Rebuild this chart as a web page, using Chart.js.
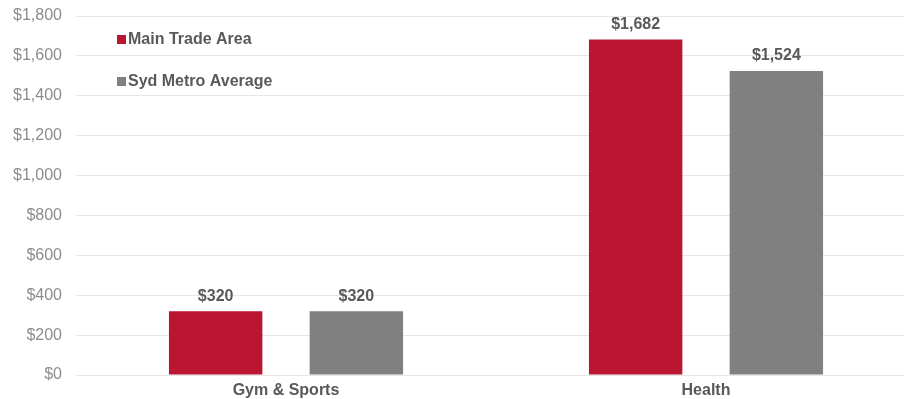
<!DOCTYPE html>
<html>
<head>
<meta charset="utf-8">
<script src="https://cdn.jsdelivr.net/npm/chart.js@4/dist/chart.umd.min.js"></script>
<style>
    html, body { margin: 0; padding: 0; background: #fff; overflow: hidden; }
    #wrap { width: 916px; height: 399px; }
</style>
</head>
<body>
<div id="wrap"><canvas id="spendChart"></canvas></div>
<script>
const categories = ['Gym & Sports', 'Health'];
const mainTradeArea = [320, 1682];
const sydMetroAverage = [320, 1524];
const seriesNames = ['Main Trade Area', 'Syd Metro Average'];
const seriesColors = ['#BA1632', '#808080'];
const yTicks = [0, 200, 400, 600, 800, 1000, 1200, 1400, 1600, 1800];

const FONT = '"Liberation Sans", Arial, sans-serif';
const money = v => '$' + v.toLocaleString('en-US');

// bold value labels above each bar
const valueLabels = {
    id: 'valueLabels',
    afterDatasetsDraw(chart) {
        const ctx = chart.ctx;
        ctx.save();
        ctx.font = 'bold 16px ' + FONT;
        ctx.fillStyle = '#595959';
        ctx.textAlign = 'center';
        ctx.textBaseline = 'bottom';
        chart.data.datasets.forEach((ds, i) => {
            chart.getDatasetMeta(i).data.forEach((bar, j) => {
                ctx.fillText(money(ds.data[j]), bar.x, bar.y - 7);
            });
        });
        ctx.restore();
    }
};

// legend stacked in the top-left corner of the plot
const cornerLegend = {
    id: 'cornerLegend',
    afterDraw(chart) {
        const ctx = chart.ctx;
        ctx.save();
        ctx.font = 'bold 16px ' + FONT;
        ctx.textBaseline = 'middle';
        chart.data.datasets.forEach((ds, i) => {
            const y = 39 + i * 42;
            ctx.fillStyle = ds.backgroundColor;
            ctx.fillRect(117, y - 4, 9, 9);
            ctx.fillStyle = '#595959';
            ctx.fillText(ds.label, 128, y + 1);
        });
        ctx.restore();
    }
};

new Chart(document.getElementById('spendChart').getContext('2d'), {
    type: 'bar',
    data: {
        labels: categories,
        datasets: [
            { label: seriesNames[0], data: mainTradeArea, backgroundColor: seriesColors[0] },
            { label: seriesNames[1], data: sydMetroAverage, backgroundColor: seriesColors[1] }
        ]
    },
    options: {
        responsive: true,
        maintainAspectRatio: false,
        animation: false,
        layout: { padding: { top: 16, left: 0, right: 0, bottom: 0 } },
        datasets: {
            bar: { categoryPercentage: 0.67, barPercentage: 0.664 }
        },
        plugins: {
            legend: { display: false },
            tooltip: { enabled: false }
        },
        scales: {
            x: {
                grid: { display: false, drawTicks: false },
                border: { display: false },
                afterFit: scale => { scale.height = 24; },
                ticks: {
                    color: '#595959',
                    font: { family: FONT, size: 16, weight: 'bold' },
                    padding: 6
                }
            },
            y: {
                min: 0,
                max: 1800,
                afterFit: scale => { scale.width = 76; scale.paddingTop = 0; scale.paddingBottom = 0; },
                afterBuildTicks: scale => { scale.ticks = yTicks.map(v => ({ value: v })); },
                grid: { color: '#e6e6e6', lineWidth: 1, drawTicks: false },
                border: { display: false },
                ticks: {
                    color: '#8c8c8c',
                    font: { family: FONT, size: 16 },
                    padding: 14,
                    callback: v => money(v)
                }
            }
        }
    },
    plugins: [valueLabels, cornerLegend]
});
</script>
</body>
</html>
